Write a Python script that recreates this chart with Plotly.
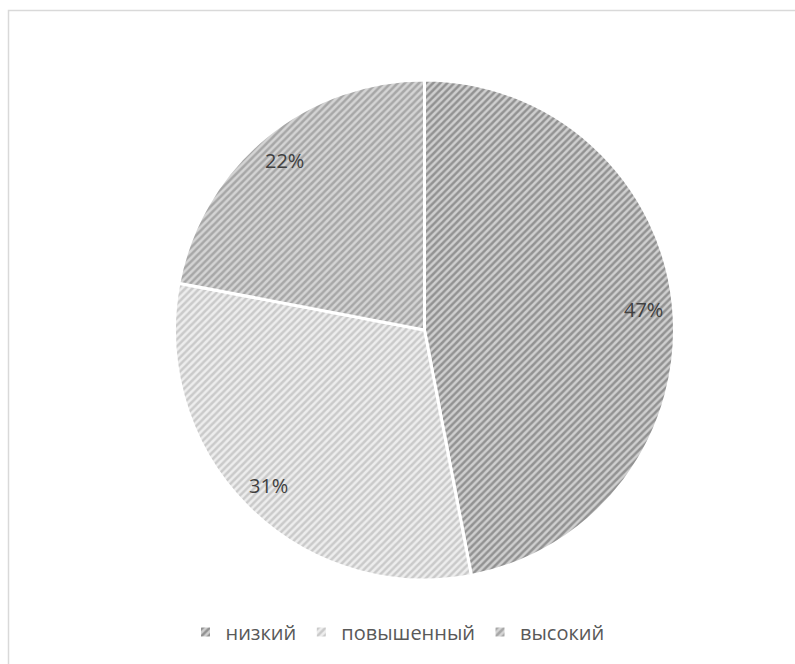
import math
import plotly.graph_objects as go

categories = ["низкий", "повышенный", "высокий"]
values = [47, 31, 22]
bg_colors = ["#cfcfcf", "#ededed", "#d4d4d4"]
fg_colors = ["#555555", "#a8a8a8", "#7a7a7a"]

W, H = 795, 664
CX, CY, R = 424.5, 330, 250  # pixel layout of the pie

fig = go.Figure()
fig.add_trace(go.Pie(
    labels=categories,
    values=values,
    sort=False,
    direction="clockwise",
    rotation=0,
    textinfo="none",
    hoverinfo="label+percent",
    marker=dict(
        colors=bg_colors,
        line=dict(color="white", width=3),
        pattern=dict(shape="/", bgcolor=bg_colors, fgcolor=fg_colors,
                     size=5, solidity=0.5, fillmode="overlay"),
    ),
    domain=dict(x=[(CX - R) / W, (CX + R) / W], y=[1 - (CY + R) / H, 1 - (CY - R) / H]),
))

# percentage labels placed at each slice's mid-angle
total = sum(values)
cum = 0
annotations = []
for v in values:
    mid = (cum + v / 2) / total * 2 * math.pi
    cum += v
    px = CX + 0.88 * R * math.sin(mid)
    py = CY - 0.88 * R * math.cos(mid)
    annotations.append(dict(
        x=px / W, y=1 - py / H, xref="paper", yref="paper",
        xanchor="center", yanchor="middle",
        text=f"{round(v / total * 100)}%", showarrow=False,
        font=dict(family="Open Sans, sans-serif", size=20, color="#404040"),
    ))

fig.update_layout(
    width=W, height=H,
    margin=dict(l=0, r=0, t=0, b=0),
    paper_bgcolor="white",
    plot_bgcolor="white",
    annotations=annotations,
    showlegend=True,
    legend=dict(
        orientation="h", x=0.5, xanchor="center", y=1 - 632 / H, yanchor="middle",
        font=dict(family="Open Sans, sans-serif", size=20, color="#595959"),
        itemwidth=30,
    ),
    shapes=[dict(type="rect", xref="paper", yref="paper",
                 x0=8.5 / W, x1=1.2, y0=-0.2, y1=1 - 10.5 / H,
                 line=dict(color="#d9d9d9", width=1.5), layer="below")],
)

fig.write_html("out.html")
